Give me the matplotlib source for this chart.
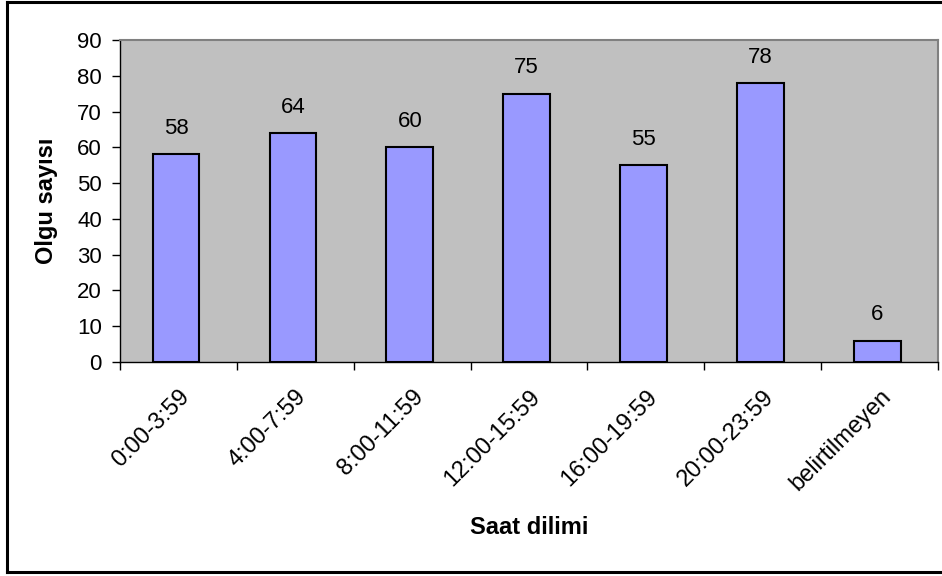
import numpy as np
import matplotlib.pyplot as plt
from matplotlib.lines import Line2D

plt.rcParams["font.family"] = ["Liberation Sans", "DejaVu Sans"]

categories = ["0:00-3:59", "4:00-7:59", "8:00-11:59", "12:00-15:59",
              "16:00-19:59", "20:00-23:59", "belirtilmeyen"]
counts = [58, 64, 60, 75, 55, 78, 6]
y_ticks = [0, 10, 20, 30, 40, 50, 60, 70, 80, 90]

fig = plt.figure(figsize=(9.42, 5.76), dpi=100, facecolor="white")
ax = fig.add_axes([120 / 942, 1 - 362 / 576, 818 / 942, 322 / 576])
ax.set_facecolor("#C0C0C0")

x = np.arange(len(categories))
bars = ax.bar(x - 0.02, counts, width=0.4, color="#9999FF", edgecolor="black",
              linewidth=1.5, zorder=3)
for xi, v in zip(x, counts):
    ax.annotate(str(v), (xi - 0.02, v), xytext=(0, 11), textcoords="offset points",
                ha="center", va="bottom", fontsize=16)

ax.set_xlim(-0.5, len(categories) - 0.5)
ax.set_ylim(0, 90)
ax.set_yticks(y_ticks)
ax.tick_params(axis="y", direction="out", length=6, width=1, labelsize=16,
               pad=7)

# category labels at bar centres, tick marks on the category boundaries
ax.set_xticks(x)
ax.set_xticklabels(categories, rotation=45, ha="right",
                   rotation_mode="anchor", fontsize=17)
ax.tick_params(axis="x", which="major", length=0, pad=17)
ax.set_xticks(np.arange(len(categories) + 1) - 0.5, minor=True)
ax.tick_params(axis="x", which="minor", direction="out", length=6, width=1)

for side in ("top", "right"):
    ax.spines[side].set_color("#808080")
    ax.spines[side].set_linewidth(1.5)
for side in ("left", "bottom"):
    ax.spines[side].set_color("black")
    ax.spines[side].set_linewidth(1)

ax.set_ylabel("Olgu sayısı", fontsize=17, fontweight="bold", va="center")
ax.yaxis.set_label_coords((47 - 120) / 818, 0.5)
ax.set_xlabel("Saat dilimi", fontsize=17, fontweight="bold", va="center")
ax.xaxis.set_label_coords(0.5, (362 - 528) / 322)

# chart frame
frame_kw = dict(color="black", linewidth=2.2, transform=fig.transFigure)
fig.add_artist(Line2D([7 / 942, 7 / 942], [1 - 1.5 / 576, 1 - 571.5 / 576], **frame_kw))
fig.add_artist(Line2D([7 / 942, 1], [1 - 1.5 / 576, 1 - 1.5 / 576], **frame_kw))
fig.add_artist(Line2D([7 / 942, 1], [1 - 571.5 / 576, 1 - 571.5 / 576], **frame_kw))

fig.savefig("out.png", dpi=100)
